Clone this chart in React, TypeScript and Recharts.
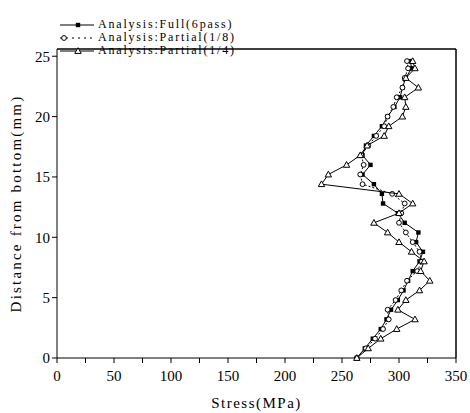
import React from 'react';
import { ScatterChart, Scatter, XAxis, YAxis, ReferenceLine, Legend } from 'recharts';

const depthMm = [0.0, 0.8, 1.6, 2.4, 3.2, 4.0, 4.8, 5.6, 6.4, 7.2, 8.0, 8.8, 9.6, 10.4, 11.2, 12.0, 12.8, 13.6, 14.4, 15.2, 16.0, 16.8, 17.6, 18.4, 19.2, 20.0, 20.8, 21.6, 22.4, 23.2, 24.0, 24.6];
const fullStress = [263, 270, 277, 284, 289, 293, 299, 304, 308, 312, 318, 321, 315, 317, 305, 299, 286, 285, 278, 268, 275, 268, 271, 278, 285, 290, 296, 301, 303, 306, 311, 310];
const partial8Stress = [263, 271, 279, 286, 291, 290, 297, 302, 307, 316, 320, 318, 312, 306, 300, 302, 305, 294, 268, 266, 269, 267, 273, 280, 287, 290, 295, 298, 303, 305, 308, 307];
const partial4Stress = [263, 273, 284, 298, 314, 299, 306, 318, 327, 319, 322, 311, 300, 290, 278, 300, 312, 300, 232, 238, 254, 266, 272, 287, 291, 303, 306, 305, 317, 306, 314, 312];

const xTicks = [0, 25, 50, 75, 100, 125, 150, 175, 200, 225, 250, 275, 300, 325, 350];
const yTicks = [0, 5, 10, 15, 20, 25];
const seriesNames = ['Analysis:Full(6pass)', 'Analysis:Partial(1/8)', 'Analysis:Partial(1/4)'];

const toPoints = (vals: number[]) => vals.map((x, i) => ({ x, y: depthMm[i] }));
const fullData = toPoints(fullStress);
const p8Data = toPoints(partial8Stress);
const p4Data = toPoints(partial4Stress);

const FONT = '"Liberation Serif", "DejaVu Serif", serif';

const SquareShape = (p: any) => (
  <rect x={p.cx - 2.2} y={p.cy - 2.2} width={4.4} height={4.4} fill="#000" />
);
const CircleShape = (p: any) => (
  <circle cx={p.cx} cy={p.cy} r={2.4} fill="#fff" stroke="#000" strokeWidth={1} />
);
const TriangleShape = (p: any) => (
  <polygon
    points={`${p.cx},${p.cy - 3.3} ${p.cx - 3.2},${p.cy + 2.4} ${p.cx + 3.2},${p.cy + 2.4}`}
    fill="#fff"
    stroke="#000"
    strokeWidth={1}
  />
);

const LegendBox = () => {
  const rows = [
    { dash: undefined, mark: 'sq' },
    { dash: '2 4', mark: 'ci' },
    { dash: undefined, mark: 'tr' },
  ];
  return (
    <div style={{ fontFamily: FONT, fontSize: 12, lineHeight: '13px', color: '#000' }}>
      {rows.map((r, i) => (
        <div key={i} style={{ display: 'flex', alignItems: 'center', height: 13, overflow: 'visible' }}>
          <svg width={40} height={12} style={{ display: 'block' }}>
            <line x1={2} y1={6} x2={36} y2={6} stroke="#000" strokeWidth={1} strokeDasharray={r.dash} />
            {r.mark === 'sq' && <rect x={17.8} y={3.8} width={4.4} height={4.4} fill="#000" />}
            {r.mark === 'ci' && <circle cx={6} cy={6} r={2.4} fill="#fff" stroke="#000" />}
            {r.mark === 'tr' && <polygon points="20,2.7 16.8,8.4 23.2,8.4" fill="#fff" stroke="#000" />}
          </svg>
          <span style={{ letterSpacing: 1.8, whiteSpace: 'nowrap', lineHeight: '13px' }}>{seriesNames[i]}</span>
        </div>
      ))}
    </div>
  );
};

export default function App() {
  return (
    <div style={{ position: 'absolute', left: 0, top: 0, background: '#fff' }}>
      <ScatterChart width={470} height={413} margin={{ top: 10, right: 14, bottom: 0, left: 0 }}>
        <XAxis
          type="number"
          dataKey="x"
          domain={[0, 350]}
          ticks={xTicks}
          interval={0}
          tickFormatter={(v: number) => (v % 50 === 0 ? String(v) : '')}
          height={55}
          stroke="#000"
          tickSize={5}
          tickMargin={7}
          tick={{ fill: '#000', fontSize: 15, fontFamily: FONT }}
          label={{ value: 'Stress(MPa)', position: 'insideBottom', offset: 5, fill: '#000', fontSize: 15, fontFamily: FONT, style: { letterSpacing: 1.5 } }}
        />
        <YAxis
          type="number"
          dataKey="y"
          domain={[0, 25.6]}
          ticks={yTicks}
          interval={0}
          width={57}
          stroke="#000"
          tickSize={5}
          tick={{ fill: '#000', fontSize: 15, fontFamily: FONT }}
          label={{ value: 'Distance from bottom(mm)', angle: -90, position: 'insideLeft', offset: 16, fill: '#000', fontSize: 15, fontFamily: FONT, style: { textAnchor: 'middle', letterSpacing: 2.2 } }}
        />
        <ReferenceLine y={25.6} stroke="#000" strokeWidth={1.5} />
        <ReferenceLine x={350} stroke="#000" strokeWidth={1.5} />
        <Legend
          verticalAlign="top"
          align="left"
          content={() => <LegendBox />}
          wrapperStyle={{ position: 'absolute', left: 58, top: 18, width: 'auto' }}
        />
        <Scatter name={seriesNames[0]} data={fullData} line={{ stroke: '#000', strokeWidth: 1 }} lineType="joint" shape={SquareShape} isAnimationActive={false} />
        <Scatter name={seriesNames[1]} data={p8Data} line={{ stroke: '#000', strokeWidth: 1, strokeDasharray: '2 2' }} lineType="joint" shape={CircleShape} isAnimationActive={false} />
        <Scatter name={seriesNames[2]} data={p4Data} line={{ stroke: '#000', strokeWidth: 1 }} lineType="joint" shape={TriangleShape} isAnimationActive={false} />
      </ScatterChart>
    </div>
  );
}
